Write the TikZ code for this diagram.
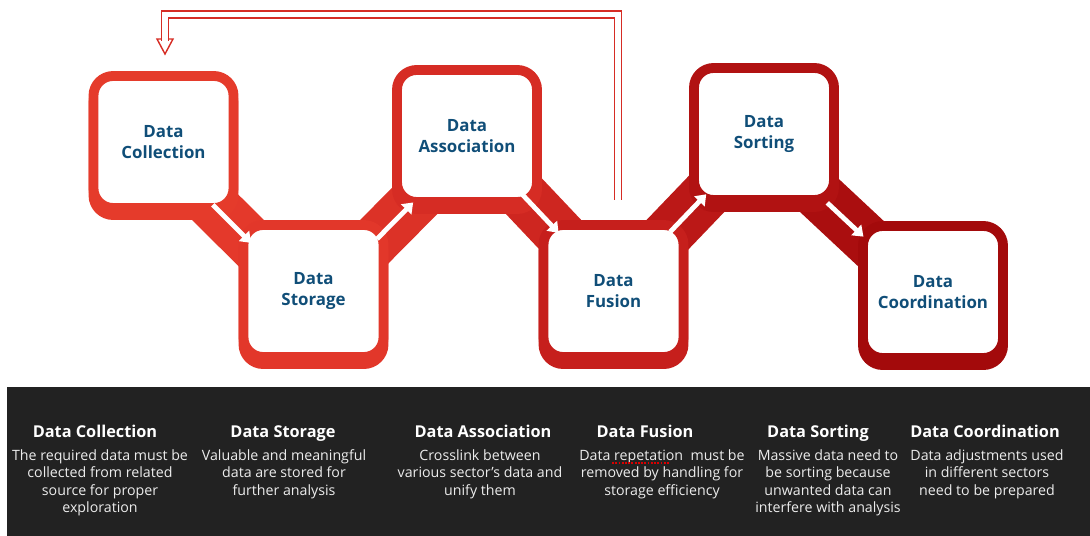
\documentclass[tikz,border=0pt]{standalone}
\usepackage{fontspec}
\setmainfont{Open Sans}
\usetikzlibrary{arrows.meta,calc}

\definecolor{red1}{HTML}{E53B2B}
\definecolor{red2}{HTML}{E2372A}
\definecolor{red3}{HTML}{D62C24}
\definecolor{red4}{HTML}{C61F1C}
\definecolor{red5}{HTML}{B11212}
\definecolor{red6}{HTML}{A30A0B}
\definecolor{boxtext}{RGB}{16,78,120}
\definecolor{panel}{RGB}{34,34,34}
\definecolor{textgrey}{RGB}{236,236,236}

\pgfdeclarelayer{bg}
\pgfsetlayers{bg,main}

\begin{document}
\begin{tikzpicture}[x=0.025cm,y=-0.025cm]
  \tikzset{ boxnode/.style={draw=#1,fill=white,line width=7pt,rounded corners=14pt,
      minimum width=3.5cm,minimum height=3.3cm,align=center,text=boxtext,
      font=\bfseries\fontsize{12}{15.5}\selectfont,
      preaction={draw=#1,fill=#1,transform canvas={yshift=-5pt}}},
    ribbon/.style={draw=#1,line width=36pt},
    flow/.style={white,line width=3.4pt,-{Triangle[width=10pt,length=7pt]}},
    loopline/.style={draw=red3,line width=1pt,double=white,double distance=3.8pt},
    headtxt/.style={white,inner sep=0pt,text height=9pt,text depth=2.5pt,
      font=\bfseries\fontsize{11.6}{14}\selectfont},
    bodytxt/.style={textgrey,inner sep=0pt,anchor=north,align=center,
      font=\fontsize{10.1}{12.5}\selectfont},
  }
  \useasboundingbox (0,0) rectangle (1090,536);

  % the six steps
  \node[boxnode=red1] (b1) at (163.5,142) {Data\\Collection};
  \node[boxnode=red2] (b2) at (313.5,291) {Data\\Storage};
  \node[boxnode=red3] (b3) at (467,136) {Data\\Association};
  \node[boxnode=red4] (b4) at (613.5,291) {Data\\Fusion};
  \node[boxnode=red5] (b5) at (764,134) {Data\\Sorting};
  \node[boxnode=red6] (b6) at (933,292) {Data\\Coordination};

  % the red bands between the boxes
  \begin{pgfonlayer}{bg}
    \draw[ribbon=red1!50!red2] ($(b1)+(-7,7)$) -- ($(b2)+(-7,7)$);
    \draw[ribbon=red2!50!red3] ($(b2)+(6,6)$) -- ($(b3)+(6,6)$);
    \draw[ribbon=red3!50!red4] (b3.center) -- (b4.center);
    \draw[ribbon=red4!50!red5] (b4.center) -- (b5.center);
    \draw[ribbon=red5!50!red6] ($(b5)+(-5,5)$) -- ($(b6)+(-5,5)$);
  \end{pgfonlayer}

  % the white arrows
  \draw[flow] ($(b1)!.375!(b2)+(-7,7)$) -- ($(b1)!.63!(b2)+(-7,7)$);
  \draw[flow] ($(b2)!.375!(b3)+(6,6)$) -- ($(b2)!.61!(b3)+(6,6)$);
  \draw[flow] ($(b3)!.38!(b4)$) -- ($(b3)!.625!(b4)$);
  \draw[flow] ($(b4)!.376!(b5)$) -- ($(b4)!.616!(b5)$);
  \draw[flow] ($(b5)!.404!(b6)+(-5,5)$) -- ($(b5)!.618!(b6)+(-5,5)$);

  % the way back to the start
  \coordinate (fbstart) at (618,200);
  \coordinate (fbtop) at (165,14.5);
  \coordinate (fbend) at (165,41);
  \filldraw[draw=red3,fill=white,line width=1pt,line join=miter]
    (157,39) -- (173,39) -- (165,54) -- cycle;
  \draw[loopline] (fbstart) -- (fbstart |- fbtop) -| (fbend);

  % the dark panel with the notes
  \fill[panel] (7,387) rectangle (1090,536);
  \node[headtxt] (h1) at (95,433) {Data Collection};
  \node[headtxt] (h2) at (283,433) {Data Storage};
  \node[headtxt] (h3) at (483,433) {Data Association};
  \node[headtxt] (h4) at (645,433) {Data Fusion};
  \node[headtxt] (h5) at (818,433) {Data Sorting};
  \node[headtxt] (h6) at (985,433) {Data Coordination};

  \node[bodytxt] (t1) at (100,449) {The required data must be\\collected from related\\source for proper\\exploration};
  \node[bodytxt] (t2) at (284,449) {Valuable and meaningful\\data are stored for\\further analysis};
  \node[bodytxt] (t3) at (480,449) {Crosslink between\\various sector’s data and\\unify them};
  \node[bodytxt] (t4) at (662,449) {Data repetation\ \ must be\\removed by handling for\\storage efficiency};
  \node[bodytxt] (t5) at (828,449) {Massive data need to\\be sorting because\\unwanted data can\\interfere with analysis};
  \node[bodytxt] (t6) at (987,449) {Data adjustments used\\in different sectors\\need to be prepared};
  % spelling mark under the word
  \draw[red!85!black,line width=1.3pt,dash pattern=on 1.3pt off 1pt]
    ($(t4.north west)+(33,14)$) -- ++(58,0);
\end{tikzpicture}
\end{document}
